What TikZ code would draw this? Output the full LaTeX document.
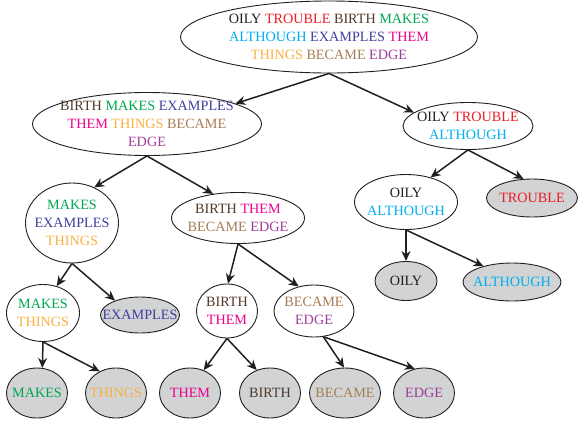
\documentclass[tikz,border=0pt]{standalone}
\usepackage{fontspec}
\setmainfont{Liberation Serif}
\usetikzlibrary{shapes.geometric, arrows, arrows.meta}
\usepackage{xcolor}
\definecolor{oily}{HTML}{231F20}
\definecolor{trouble}{HTML}{ED1C24}
\definecolor{birth}{HTML}{503A2A}
\definecolor{makes}{HTML}{00A651}
\definecolor{although}{HTML}{00AEEF}
\definecolor{examples}{HTML}{3F3F9F}
\definecolor{them}{HTML}{EC008C}
\definecolor{things}{HTML}{FBB040}
\definecolor{became}{HTML}{A67C52}
\definecolor{edge}{HTML}{9E3D98}
\definecolor{leafgray}{HTML}{D1D3D4}
\newcommand{\Oily}{\textcolor{oily}{OILY}}
\newcommand{\Trouble}{\textcolor{trouble}{TROUBLE}}
\newcommand{\Birth}{\textcolor{birth}{BIRTH}}
\newcommand{\Makes}{\textcolor{makes}{MAKES}}
\newcommand{\Although}{\textcolor{although}{ALTHOUGH}}
\newcommand{\Examples}{\textcolor{examples}{EXAMPLES}}
\newcommand{\Them}{\textcolor{them}{THEM}}
\newcommand{\Things}{\textcolor{things}{THINGS}}
\newcommand{\Became}{\textcolor{became}{BECAME}}
\newcommand{\Edge}{\textcolor{edge}{EDGE}}
\tikzstyle{arrow} = [line width=1.5pt,-{Stealth[length=10pt,width=9pt]},color=oily]
\tikzstyle{split} = [ellipse, draw=oily, line width=0.9pt, inner sep=0pt]
\tikzstyle{leaf} = [split, fill=leafgray]
\tikzstyle{words} = [align=center, inner sep=0pt, font=\fontsize{14.2}{18}\selectfont]

\begin{document}
\begin{tikzpicture}[x=1pt,y=-1pt]
		\useasboundingbox (0,0) rectangle (579,421);

		% split nodes
		\node[split, minimum width=297, minimum height=72,
			label={[words]center:{\Oily{} \Trouble{} \Birth{} \Makes\\ \Although{} \Examples{} \Them\\ \Things{} \Became{} \Edge}}] (root) at (329,37) {};
		\node[split, minimum width=229, minimum height=63,
			label={[words]center:{\Birth{} \Makes{} \Examples\\ \Them{} \Things{} \Became\\ \Edge}}] (bme) at (147,124) {};
		\node[split, minimum width=130, minimum height=47,
			label={[words]center:{\Oily{} \Trouble\\ \Although}}] (ota) at (468,126) {};
		\node[split, minimum width=103, minimum height=55,
			label={[words]center:{\Oily\\ \Although}}] (oa) at (406,202) {};
		\node[split, minimum width=93, minimum height=80,
			label={[words]center:{\Makes\\ \Examples\\ \Things}}] (met) at (72,223) {};
		\node[split, minimum width=133, minimum height=51,
			label={[words]center:{\Birth{} \Them\\ \Became{} \Edge}}] (btbe) at (238,218) {};
		\node[split, minimum width=73, minimum height=57,
			label={[words]center:{\Makes\\ \Things}}] (mt) at (43,313) {};
		\node[split, minimum width=61, minimum height=54,
			label={[words]center:{\Birth\\ \Them}}] (bt) at (227,311) {};
		\node[split, minimum width=80, minimum height=52,
			label={[words]center:{\Became\\ \Edge}}] (be) at (314,311) {};

		% leaves
		\node[leaf, minimum width=91, minimum height=38, label={[words]center:\Trouble}] (trouble) at (532,198) {};
		\node[leaf, minimum width=62, minimum height=39, label={[words]center:\Oily}] (oily) at (406,281) {};
		\node[leaf, minimum width=98, minimum height=38, label={[words]center:\Although}] (although) at (512,282) {};
		\node[leaf, minimum width=79, minimum height=36, label={[words]center:\Examples}] (examples) at (140,315) {};
		\node[leaf, minimum width=61, minimum height=50, label={[words]center:\Makes}] (makes) at (37,393) {};
		\node[leaf, minimum width=61, minimum height=50, label={[words]center:\Things}] (things) at (116,393) {};
		\node[leaf, minimum width=61, minimum height=50, label={[words]center:\Them}] (them) at (190,393) {};
		\node[leaf, minimum width=61, minimum height=50, label={[words]center:\Birth}] (birth) at (270,393) {};
		\node[leaf, minimum width=71, minimum height=50, label={[words]center:\Became}] (became) at (345,393) {};
		\node[leaf, minimum width=61, minimum height=50, label={[words]center:\Edge}] (edge) at (424,393) {};

		% arrows
		\draw[arrow] (root.south) -- (bme.13);
		\draw[arrow] (root.south) -- (ota.166);
		\draw[arrow] (bme.south) -- (met.58);
		\draw[arrow] (bme.south) -- (btbe.136);
		\draw[arrow] (ota.south) -- (oa.45);
		\draw[arrow] (ota.south) -- (trouble.114);
		\draw[arrow] (oa.south) -- (oily.90);
		\draw[arrow] (oa.south) -- (although.151);
		\draw[arrow] (met.south) -- (mt.63);
		\draw[arrow] (met.south) -- (examples.150);
		\draw[arrow] (btbe.south) -- (bt.88);
		\draw[arrow] (btbe.south) -- (be.122);
		\draw[arrow] (mt.south) -- (makes.78);
		\draw[arrow] (mt.south) -- (things.127);
		\draw[arrow] (bt.south) -- (them.59);
		\draw[arrow] (bt.south) -- (birth.120);
		\draw[arrow] (be.290) -- (became.92);
		\draw[arrow] (be.290) -- (edge.111);
	\end{tikzpicture}
\end{document}
